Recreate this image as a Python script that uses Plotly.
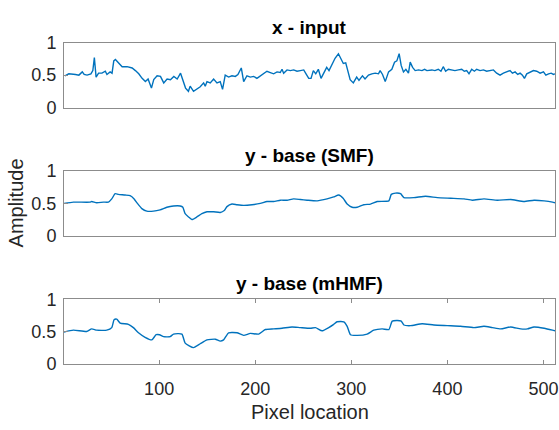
import plotly.graph_objects as go

# ---- data: x - input ----
x_in = [2, 6, 13, 16.5, 20, 22, 25, 29, 31, 32.6, 34.4, 37, 40.5, 44, 45.7, 49, 51, 52.8, 54.5, 58,
        61.5, 66.7, 71.9, 75.3, 78.8, 82.3, 85.7, 88.5, 92, 94.4, 97.9, 101.4, 104.8, 108.3, 111.8,
        115.3, 118.8, 122.3, 124.7, 127.5, 130.5, 132.3, 135.8, 139.3, 142.8, 146.3, 148, 149.8,
        153.2, 156.7, 160.2, 163.6, 166, 168.8, 172.3, 175.8, 179.3, 182, 185.5, 188, 191.4, 194.9,
        198.4, 201.8, 205.3, 208.8, 212.2, 215.7, 219.2, 222.7, 226.1, 227.9, 229.6, 233.1, 236.6,
        240, 243.5, 247, 250.5, 252.9, 255.7, 258.1, 260.5, 263, 265.7, 268.5, 270.9, 274.4, 276.8,
        280.4, 283.1, 286.6, 289.3, 291.7, 294.2, 296.2, 298.8, 302.1, 305.6, 308, 311.6, 314.3,
        317.9, 321.4, 324.9, 328.3, 330, 332.5, 335.3, 338.8, 342.2, 345, 347.4, 349.8, 351.9,
        354.3, 356.8, 359.5, 361.3, 363.8, 366.5, 370, 373.5, 376.3, 378.7, 383.9, 387, 390.5,
        393.3, 395.7, 398.2, 401, 404.4, 407.9, 411.4, 414.9, 417.6, 420.1, 422.5, 425.3, 428.1,
        430.5, 434, 437.5, 440.9, 444.4, 447.9, 451.3, 454.8, 458.3, 461.8, 465.2, 467.7, 470.5,
        473.2, 475.7, 478.1, 480.2, 482.6, 486.1, 489.6, 493, 496.5, 500, 502.5, 505.3, 508, 510.4, 512]
y_in = [0.49, 0.52, 0.51, 0.50, 0.55, 0.51, 0.50, 0.52, 0.57, 0.77, 0.47, 0.53, 0.53, 0.56, 0.51, 0.55,
        0.53, 0.72, 0.74, 0.68, 0.63, 0.63, 0.61, 0.57, 0.52, 0.45, 0.40, 0.44, 0.30, 0.43, 0.49, 0.48,
        0.38, 0.44, 0.43, 0.48, 0.44, 0.53, 0.43, 0.30, 0.25, 0.33, 0.25, 0.29, 0.32, 0.38, 0.33, 0.40,
        0.38, 0.44, 0.38, 0.40, 0.28, 0.50, 0.47, 0.49, 0.48, 0.51, 0.61, 0.40, 0.49, 0.47, 0.48, 0.45,
        0.49, 0.52, 0.56, 0.54, 0.52, 0.55, 0.54, 0.59, 0.53, 0.58, 0.57, 0.58, 0.56, 0.57, 0.58, 0.52,
        0.45, 0.45, 0.57, 0.52, 0.59, 0.45, 0.52, 0.62, 0.57, 0.67, 0.76, 0.83, 0.74, 0.68, 0.69, 0.57,
        0.43, 0.38, 0.47, 0.42, 0.49, 0.44, 0.50, 0.52, 0.53, 0.52, 0.57, 0.51, 0.40, 0.55, 0.59, 0.70,
        0.72, 0.83, 0.65, 0.55, 0.59, 0.53, 0.70, 0.62, 0.57, 0.58, 0.57, 0.59, 0.57, 0.58, 0.57, 0.59,
        0.56, 0.63, 0.56, 0.59, 0.58, 0.57, 0.58, 0.59, 0.56, 0.57, 0.52, 0.59, 0.56, 0.59, 0.57, 0.58,
        0.56, 0.57, 0.58, 0.53, 0.50, 0.53, 0.55, 0.57, 0.53, 0.55, 0.51, 0.53, 0.50, 0.45, 0.52, 0.55,
        0.57, 0.56, 0.53, 0.55, 0.50, 0.52, 0.53, 0.51, 0.52]

# ---- data: y - base (SMF) ----
x_smf = [1, 10.7, 28, 29.8, 35, 42, 47.2, 50.7, 54.2, 57.6, 64.6, 69.8, 74, 77.4, 82, 87.2, 94.1, 101,
         108, 114.9, 121.9, 124.7, 127.1, 130.6, 134.1, 139.3, 144.5, 149.8, 156.7, 163.6, 167.8,
         170.6, 175.8, 181, 188, 196.7, 205.3, 212.3, 219.2, 226.2, 233.1, 240, 247, 254, 264.4,
         274.8, 281.7, 286.9, 291.5, 295.7, 300.9, 306.1, 313, 320, 326.9, 339.1, 341.6, 346, 351.3,
         354.7, 365.1, 377.3, 389.5, 403.4, 417.3, 426, 438.1, 452, 465.9, 479.8, 490.2, 500.7, 509.4, 512]
y_smf = [0.50, 0.52, 0.52, 0.53, 0.51, 0.52, 0.52, 0.57, 0.65, 0.64, 0.63, 0.62, 0.57, 0.50, 0.42, 0.38,
         0.38, 0.40, 0.44, 0.46, 0.46, 0.44, 0.34, 0.29, 0.25, 0.29, 0.34, 0.37, 0.37, 0.36, 0.39, 0.45,
         0.49, 0.48, 0.47, 0.48, 0.50, 0.53, 0.53, 0.55, 0.55, 0.57, 0.56, 0.55, 0.54, 0.57, 0.60, 0.63,
         0.58, 0.49, 0.44, 0.44, 0.48, 0.49, 0.53, 0.54, 0.64, 0.66, 0.65, 0.59, 0.59, 0.61, 0.59, 0.58,
         0.57, 0.55, 0.57, 0.55, 0.56, 0.53, 0.55, 0.54, 0.52, 0.51]

# ---- data: y - base (mHMF) ----
x_mhmf = [1, 10.7, 24.6, 29.8, 35, 45.5, 50.7, 53.1, 55.9, 59.4, 68, 73.2, 78.5, 85.4, 92.4, 96.9, 100.4,
          104.6, 111.5, 115, 123.7, 127.1, 135.8, 142.8, 149.8, 158.5, 163.6, 167.1, 172.3, 181, 188,
          194.9, 203.6, 210.5, 219.2, 227.9, 238.3, 247, 257.4, 262.7, 269.6, 276.5, 281.7, 285.2,
          292.2, 295.7, 299.1, 306.1, 316.5, 323.4, 332.1, 339.1, 342.6, 347.8, 352, 354.7, 361.7,
          373.8, 386, 399.9, 413.8, 427.7, 438.1, 446.8, 455.5, 465.9, 476.3, 483.3, 490.2, 500.7, 509.4, 512]
y_mhmf = [0.49, 0.52, 0.50, 0.54, 0.52, 0.52, 0.56, 0.68, 0.69, 0.63, 0.61, 0.56, 0.48, 0.41, 0.37, 0.45,
          0.45, 0.42, 0.42, 0.46, 0.46, 0.32, 0.25, 0.31, 0.37, 0.38, 0.35, 0.37, 0.48, 0.48, 0.44, 0.47,
          0.46, 0.53, 0.54, 0.55, 0.57, 0.56, 0.55, 0.56, 0.51, 0.56, 0.61, 0.65, 0.65, 0.58, 0.45, 0.44,
          0.46, 0.52, 0.54, 0.53, 0.66, 0.67, 0.66, 0.60, 0.59, 0.62, 0.60, 0.59, 0.58, 0.56, 0.58, 0.56,
          0.54, 0.57, 0.54, 0.54, 0.57, 0.55, 0.52, 0.51]

titles = ["x - input", "y - base (SMF)", "y - base (mHMF)"]
x_ticks = [100, 200, 300, 400, 500]
y_ticks = [0, 0.5, 1]
y_tick_text = ["0", "0.5", "1"]

LINE = "#0072BD"
AXC = "#262626"
BOX = "#8c8c8c"
FONT = "Liberation Sans, Arial, Helvetica, sans-serif"
H = 430
# axes pixel rows (top, bottom)
rows = [(34.3, 102.3), (169.0, 236.7), (303.3, 371.0)]

fig = go.Figure()
series = [(x_in, y_in, "linear"), (x_smf, y_smf, "spline"), (x_mhmf, y_mhmf, "spline")]
for i, (xs, ys, shp) in enumerate(series):
    k = "" if i == 0 else str(i + 1)
    ln = dict(color=LINE, width=1.4, shape=shp)
    if shp == "spline":
        ln["smoothing"] = 0.5
    fig.add_trace(go.Scatter(x=xs, y=ys, mode="lines", xaxis="x" + k, yaxis="y" + k,
                             line=ln, showlegend=False))

layout = dict(width=559, height=H, margin=dict(l=64, r=4, t=0, b=0),
              paper_bgcolor="white", plot_bgcolor="white",
              font=dict(family=FONT, color=AXC, size=18))
annotations = []
for i, (top, bot) in enumerate(rows):
    k = "" if i == 0 else str(i + 1)
    last = i == 2
    layout["xaxis" + k] = dict(
        domain=[0, 1], range=[1, 512], anchor="y" + k,
        showline=True, linecolor=BOX, linewidth=1, mirror="ticks" if last else True,
        showgrid=False, zeroline=False,
        tickmode="array", tickvals=x_ticks if last else [],
        showticklabels=last, ticks="inside" if last else "", ticklen=4, tickcolor=BOX,
        tickfont=dict(size=18, color=AXC, family=FONT), ticklabelstandoff=9,
    )
    layout["yaxis" + k] = dict(
        domain=[1 - bot / H, 1 - top / H], range=[0, 1], anchor="x" + k,
        showline=True, linecolor=BOX, linewidth=1, mirror=True,
        showgrid=False, zeroline=False,
        tickmode="array", tickvals=y_ticks, ticktext=y_tick_text,
        ticks="inside", ticklen=4, tickcolor=BOX,
        tickfont=dict(size=18, color=AXC, family=FONT), ticklabelstandoff=3,
    )
    annotations.append(dict(text="<b>" + titles[i] + "</b>", xref="x" + k + " domain",
                            yref="y" + k + " domain", x=0.5, y=1, xanchor="center",
                            yanchor="bottom", yshift=3, showarrow=False,
                            font=dict(size=19, color="black", family=FONT)))

annotations.append(dict(text="Amplitude", xref="paper", yref="y2 domain", x=0, y=0.5,
                        xshift=-48, textangle=-90, xanchor="center", yanchor="middle",
                        showarrow=False, font=dict(size=20, color=AXC, family=FONT)))
annotations.append(dict(text="Pixel location", xref="x3 domain", yref="paper", x=0.5, y=0,
                        xanchor="center", yanchor="middle", yshift=8,
                        showarrow=False, font=dict(size=20, color=AXC, family=FONT)))
layout["annotations"] = annotations
fig.update_layout(**layout)
fig.write_html("out.html")
